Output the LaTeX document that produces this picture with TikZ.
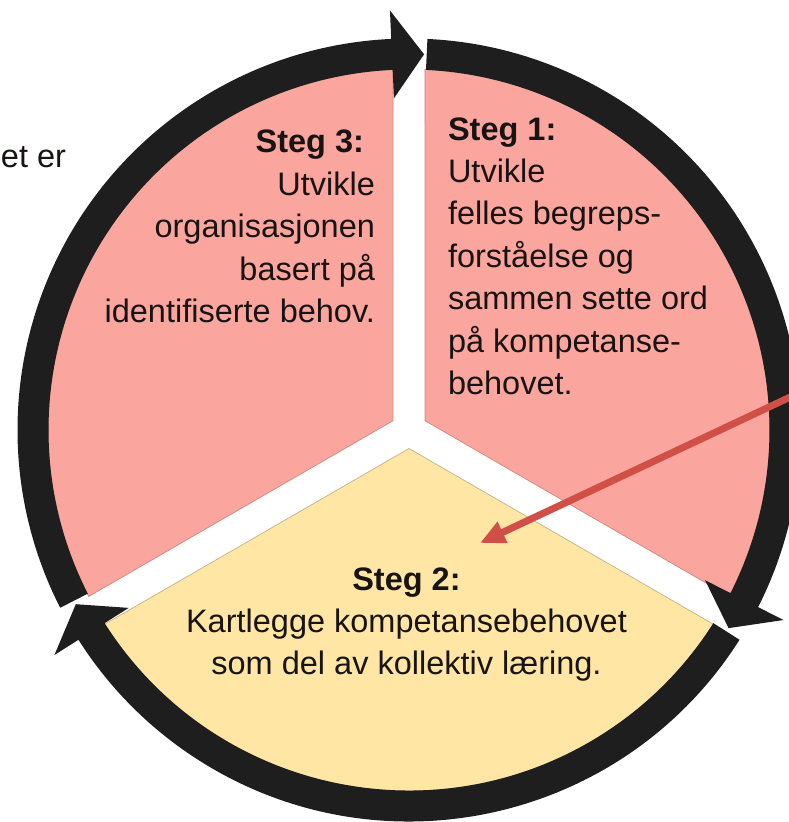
\documentclass[tikz,border=0pt]{standalone}
\usepackage{fontspec}
\setmainfont{Liberation Sans}
\usetikzlibrary{arrows.meta}
\definecolor{pinkfill}{RGB}{250,166,158}
\definecolor{pinkedge}{RGB}{205,135,126}
\definecolor{yellowfill}{RGB}{255,230,165}
\definecolor{yellowedge}{RGB}{195,178,135}
\definecolor{ringc}{RGB}{30,30,30}
\definecolor{textc}{RGB}{25,20,20}
\definecolor{redarrow}{RGB}{208,80,72}
\begin{document}
\begin{tikzpicture}[x=1pt,y=1pt,
  txt/.style={inner sep=0pt, outer sep=0pt, text=textc, font=\fontsize{32.5}{42.4}\selectfont},
  pinksector/.style={fill=pinkfill, draw=pinkedge, line width=0.7pt, line join=miter},
  yellowsector/.style={fill=yellowfill, draw=yellowedge, line width=0.7pt, line join=miter},
  ringseg/.style={fill=ringc},
  redconn/.style={draw=redarrow, line width=7pt, -{Triangle[length=25pt,width=22pt]}}]
\useasboundingbox (-409,-392) rectangle (380,430);
\clip (-409,-392) rectangle (380,430);
% sectors
\path[pinksector] (30:18.5) -- (-27.46:361) arc[start angle=-27.46, end angle=87.46, radius=361] -- cycle;
\path[pinksector] (150:18.5) -- (92.54:361) arc[start angle=92.54, end angle=207.46, radius=361] -- cycle;
\path[yellowsector] (270:18.5) -- (212.54:361) arc[start angle=212.54, end angle=327.46, radius=361] -- cycle;
% ring segments with arrowheads
\path[ringseg] (87.3:391.5) arc[start angle=87.3, end angle=-26.9, radius=391.5]
  -- (-26.9:420) -- (-31.8:376) -- (-26.9:332) -- (-26.9:360.5)
  arc[start angle=-26.9, end angle=87.3, radius=360.5] -- cycle;
\path[ringseg] (-32.4:391.5) arc[start angle=-32.4, end angle=-147.6, radius=391.5]
  -- (-147.6:420) -- (-152.4:376) -- (-147.6:332) -- (-147.6:360.5)
  arc[start angle=-147.6, end angle=-32.4, radius=360.5] -- cycle;
\path[ringseg] (207.0:391.5) arc[start angle=207.0, end angle=92.6, radius=391.5]
  -- (92.6:420) -- (87.7:376) -- (92.6:332) -- (92.6:360.5)
  arc[start angle=92.6, end angle=207.0, radius=360.5] -- cycle;
% texts
\node[txt, anchor=north west, align=left] (steg1) at (39,314)
  {\rule{0pt}{24pt}\textbf{Steg 1:}\\Utvikle\\felles begreps-\\forståelse og\\sammen sette ord\\på kompetanse-\\behovet.};
\node[txt, anchor=north east, align=right] (steg3) at (-34,301)
  {\rule{0pt}{24pt}\textbf{Steg 3:}\hspace*{11pt}\\Utvikle\\organisasjonen\\basert på\\identifiserte behov.};
\node[txt, anchor=north, align=center] (steg2) at (-2.5,-136)
  {\rule{0pt}{24pt}\textbf{Steg 2:}\\Kartlegge kompetansebehovet\\som del av kollektiv læring.};
\node[txt, anchor=base west] (cut) at (-408,262) {et er};
% red arrow
\coordinate (redstart) at (392,38);
\coordinate (redtip) at (71,-113);
\draw[redconn] (redstart) -- (redtip);
\end{tikzpicture}
\end{document}
